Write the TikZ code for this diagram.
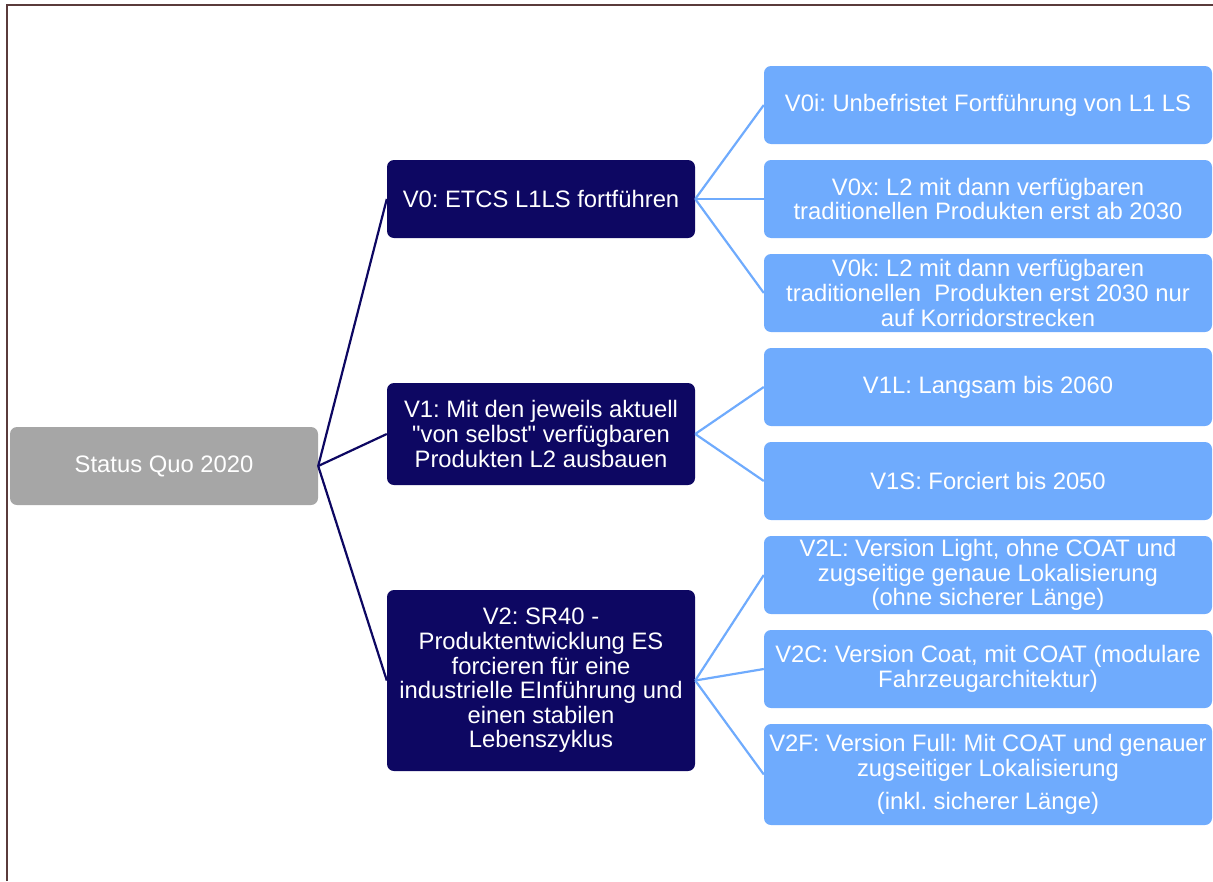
\documentclass[tikz,border=0pt]{standalone}
\usepackage{fontspec}
\setmainfont{Liberation Sans}[Ligatures=TeXOff]
\frenchspacing
\definecolor{navy}{HTML}{0D0762}
\definecolor{skyblue}{HTML}{6FABFD}
\definecolor{greybox}{HTML}{A6A6A6}
\definecolor{framebrown}{HTML}{5A3B3B}
\begin{document}
\begin{tikzpicture}[x=1pt,y=-1pt,
  box/.style={rounded corners=7pt, text=white, align=center, inner sep=2pt,
    font=\fontsize{23.8}{24.6}\selectfont},
  rootbox/.style={box, fill=greybox, minimum width=308pt, minimum height=78pt},
  midbox/.style={box, fill=navy, minimum width=308pt},
  leafbox/.style={box, fill=skyblue, minimum width=448pt, minimum height=78pt},
  trunk/.style={draw=navy, line width=2.2pt},
  twig/.style={draw=skyblue, line width=2.2pt}]
\useasboundingbox (0,0) rectangle (1213,881);
% outer frame (left and top edges)
\draw[framebrown, line width=2pt] (7,881) -- (7,5) -- (1213,5);

% root
\node[rootbox] (sq) at (164,466) {Status Quo 2020};

% variants
\node[midbox, minimum height=78pt] (v0) at (541,199) {V0: ETCS L1LS fortführen};
\node[midbox, minimum height=102pt] (v1) at (541,434)
  {V1: Mit den jeweils aktuell\\"von selbst" verfügbaren\\Produkten L2 ausbauen};
\node[midbox, minimum height=181pt] (v2) at (541,680.5)
  {V2: SR40 -\\Produktentwicklung ES\\forcieren für eine\\industrielle EInführung und\\einen stabilen\\Lebenszyklus};

% sub-variants
\node[leafbox] (v0i) at (988,105) {V0i: Unbefristet Fortführung von L1 LS};
\node[leafbox] (v0x) at (988,199) {V0x: L2 mit dann verfügbaren\\traditionellen Produkten erst ab 2030};
\node[leafbox] (v0k) at (988,293) {V0k: L2 mit dann verfügbaren\\traditionellen\ \ Produkten erst 2030 nur\\auf Korridorstrecken};
\node[leafbox] (v1l) at (988,387) {V1L: Langsam bis 2060};
\node[leafbox] (v1s) at (988,481) {V1S: Forciert bis 2050};
\node[leafbox] (v2l) at (988,575) {V2L: Version Light, ohne COAT und\\zugseitige genaue Lokalisierung\\(ohne sicherer Länge)};
\node[leafbox] (v2c) at (988,669) {V2C: Version Coat, mit COAT (modulare\\Fahrzeugarchitektur)};
\node[leafbox, minimum height=101pt] (v2f) at (988,774.5) {V2F: Version Full: Mit COAT und genauer\\zugseitiger Lokalisierung\\[9pt](inkl. sicherer Länge)};

% connectors
\foreach \t in {v0,v1,v2} \draw[trunk] (sq.east) -- (\t.west);
\foreach \t in {v0i,v0x,v0k} \draw[twig] (v0.east) -- (\t.west);
\foreach \t in {v1l,v1s} \draw[twig] (v1.east) -- (\t.west);
\foreach \t in {v2l,v2c,v2f} \draw[twig] (v2.east) -- (\t.west);
\end{tikzpicture}
\end{document}
